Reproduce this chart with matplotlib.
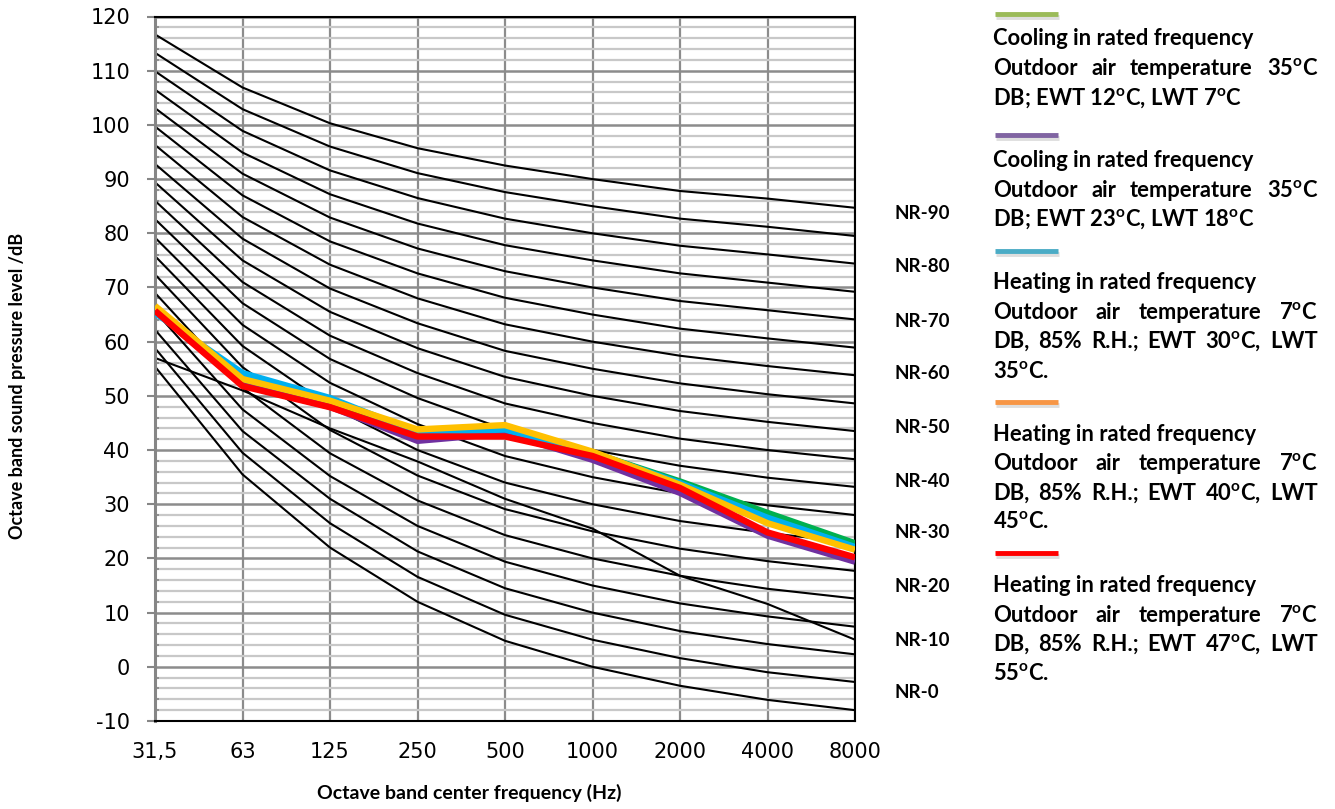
import matplotlib
matplotlib.use("Agg")
import matplotlib.pyplot as plt
from matplotlib.ticker import MultipleLocator

plt.rcParams["axes.unicode_minus"] = False

# octave band centres
freq_labels = ["31,5", "63", "125", "250", "500", "1000", "2000", "4000", "8000"]

# NR curves, NR-0 ... NR-90 in steps of 5
nr_curves = [
    [55.4, 35.5, 22.0, 12.0, 4.8, 0.0, -3.5, -6.1, -8.0],
    [58.8, 39.5, 26.5, 16.6, 9.6, 5.0, 1.6, -1.0, -2.8],
    [62.2, 43.5, 31.0, 21.3, 14.5, 10.0, 6.6, 4.2, 2.3],
    [65.6, 47.5, 35.2, 26.0, 19.4, 15.0, 11.7, 9.3, 7.4],
    [69.0, 51.5, 39.4, 30.7, 24.3, 20.0, 16.8, 14.4, 12.6],
    [72.4, 55.3, 43.7, 35.3, 29.1, 25.0, 21.8, 19.5, 17.7],
    [75.8, 59.2, 48.1, 40.0, 34.0, 30.0, 26.9, 24.7, 22.9],
    [79.2, 63.1, 52.4, 44.8, 38.9, 35.0, 32.0, 29.8, 28.0],
    [82.6, 67.1, 56.8, 49.6, 43.8, 40.0, 37.1, 34.9, 33.2],
    [86.0, 71.0, 61.1, 54.2, 48.6, 45.0, 42.1, 40.0, 38.3],
    [89.4, 75.0, 65.5, 58.8, 53.5, 50.0, 47.2, 45.2, 43.5],
    [92.8, 79.0, 69.8, 63.4, 58.3, 55.0, 52.3, 50.3, 48.6],
    [96.3, 83.0, 74.2, 68.0, 63.2, 60.0, 57.4, 55.5, 53.8],
    [99.7, 87.0, 78.5, 72.6, 68.1, 65.0, 62.4, 60.6, 58.9],
    [103.1, 91.0, 82.9, 77.2, 73.0, 70.0, 67.5, 65.8, 64.1],
    [106.5, 94.9, 87.2, 81.8, 77.8, 75.0, 72.6, 70.9, 69.2],
    [109.9, 98.9, 91.6, 86.5, 82.7, 80.0, 77.7, 76.1, 74.4],
    [113.3, 102.9, 96.0, 91.1, 87.6, 85.0, 82.7, 81.2, 79.5],
    [116.7, 106.9, 100.3, 95.7, 92.5, 90.0, 87.8, 86.4, 84.7],
]
# the stray straight-ish curve that crosses the others
odd_curve = [57.0, 51.0, 44.0, 37.9, 31.0, 25.5, 16.8, 11.6, 5.0]

nr_labels = ["NR-90", "NR-80", "NR-70", "NR-60", "NR-50",
             "NR-40", "NR-30", "NR-20", "NR-10", "NR-0"]

# measured units
cool_12_7 = [66.0, 52.5, 48.5, 43.0, 43.8, 39.5, 34.2, 28.4, 22.8]
cool_23_18 = [65.8, 52.0, 48.0, 41.7, 43.1, 38.2, 32.1, 24.2, 19.4]
heat_30_35 = [65.3, 54.2, 49.6, 43.2, 43.8, 39.5, 33.9, 27.5, 22.1]
heat_40_45 = [66.6, 53.1, 49.1, 43.8, 44.6, 39.7, 33.6, 26.5, 21.6]
heat_47_55 = [65.7, 51.8, 47.9, 42.5, 42.5, 38.9, 33.0, 24.8, 20.2]

series = [cool_12_7, cool_23_18, heat_30_35, heat_40_45, heat_47_55]
line_colors = ["#00B050", "#7030A0", "#00B0F0", "#FFC000", "#FF0000"]
legend_colors = ["#9BBB59", "#8064A2", "#4BACC6", "#F79646", "#FF0000"]

deg = r"$^{\mathregular{o}}$C"
legend_text = [
    ["Cooling in rated frequency",
     "Outdoor air temperature 35" + deg,
     "DB; EWT 12" + deg + ", LWT 7" + deg],
    ["Cooling in rated frequency",
     "Outdoor air temperature 35" + deg,
     "DB; EWT 23" + deg + ", LWT 18" + deg],
    ["Heating in rated frequency",
     "Outdoor air temperature 7" + deg,
     "DB, 85% R.H.; EWT 30" + deg + ", LWT",
     "35" + deg + "."],
    ["Heating in rated frequency",
     "Outdoor air temperature 7" + deg,
     "DB, 85% R.H.; EWT 40" + deg + ", LWT",
     "45" + deg + "."],
    ["Heating in rated frequency",
     "Outdoor air temperature 7" + deg,
     "DB, 85% R.H.; EWT 47" + deg + ", LWT",
     "55" + deg + "."],
]
# which lines get stretched to the full width
legend_justify = [
    [False, True, False],
    [False, True, False],
    [False, True, True, False],
    [False, True, True, False],
    [False, True, True, False],
]

W, H = 1335, 809
fig = plt.figure(figsize=(W / 100, H / 100), dpi=100)
fig.patch.set_facecolor("white")

left, right, top, bottom = 155, 855, 16.5, 721
ax = fig.add_axes([left / W, 1 - bottom / H, (right - left) / W, (bottom - top) / H])
x = list(range(len(freq_labels)))

ax.set_xlim(0, len(freq_labels) - 1)
ax.set_ylim(-10, 120)
ax.yaxis.set_major_locator(MultipleLocator(10))
ax.yaxis.set_minor_locator(MultipleLocator(2))
ax.set_xticks(x)
ax.set_xticklabels(freq_labels)

ax.grid(True, axis="y", which="minor", color="#c8c8c8", lw=1.6, zorder=0)
ax.grid(True, axis="y", which="major", color="#8c8c8c", lw=1.8, zorder=0)
ax.grid(True, axis="x", which="major", color="#8c8c8c", lw=1.6, zorder=0)
ax.set_axisbelow(True)

for vals in nr_curves:
    ax.plot(x, vals, color="black", lw=1.5, zorder=2)
ax.plot(x, odd_curve, color="black", lw=1.5, zorder=2)

for vals, c in zip(series, line_colors):
    ax.plot(x, vals, color=c, lw=4.6, solid_joinstyle="round",
            solid_capstyle="butt", zorder=3)

ax.spines["left"].set_color("#868686")
ax.spines["left"].set_linewidth(2.2)
for s in ["top", "right", "bottom"]:
    ax.spines[s].set_color("black")
    ax.spines[s].set_linewidth(1.5)

ax.tick_params(axis="y", which="major", direction="out", length=6, width=1.5,
               color="#868686", pad=12, labelsize=15)
ax.tick_params(axis="y", which="minor", direction="in", length=3, width=1.2,
               color="#868686")
ax.tick_params(axis="x", length=0, pad=15, labelsize=15)
for lab in ax.get_xticklabels() + ax.get_yticklabels():
    lab.set_fontfamily("DejaVu Sans")

fig.text(469 / W, 1 - 793 / H, "Octave band center frequency (Hz)",
         ha="center", va="center", fontsize=14, fontweight="bold",
         family="Lato")
fig.text(18 / W, 1 - 386 / H, "Octave band sound pressure level /dB",
         ha="center", va="center", rotation=90, fontsize=13,
         fontweight="bold", family="Lato")

# overlay in pixel coords for the labels on the right
ov = fig.add_axes([0, 0, 1, 1])
ov.set_xlim(0, W)
ov.set_ylim(H, 0)
ov.axis("off")

nr_y = [213, 267, 321, 373, 427, 481, 533, 587, 640, 693]
for lab, yy in zip(nr_labels, nr_y):
    ov.text(895, yy, lab, ha="left", va="center", fontsize=13.5,
            fontweight="bold", family="Lato")

renderer = fig.canvas.get_renderer()
tx0, tx1 = 993, 1318
txt_kw = dict(fontsize=15.8, fontweight="bold", family="Lato", va="baseline",
              ha="left", color="black")


def put_line(text, yc, justify):
    yb = yc + 8
    if not justify:
        ov.text(tx0, yb, text, **txt_kw)
        return
    words = text.split(" ")
    items = [ov.text(0, yb, w, **txt_kw) for w in words]
    widths = [t.get_window_extent(renderer).width for t in items]
    gap = (tx1 - tx0 - sum(widths)) / (len(words) - 1)
    pos = tx0
    for t, w in zip(items, widths):
        t.set_x(pos)
        pos += w + gap


marker_y = [14, 135, 251, 402, 553]
line_y = [
    [37, 67, 97],
    [159, 189, 218],
    [281, 311, 340, 370],
    [433, 462, 492, 520],
    [584, 614, 643, 672],
]
for k in range(len(series)):
    my = marker_y[k]
    ov.plot([996, 1059], [my + 2.5, my + 2.5], color="#d0d0d0", lw=3.5,
            solid_capstyle="butt", alpha=0.7)
    ov.plot([995, 1058], [my, my], color=legend_colors[k], lw=3.5,
            solid_capstyle="butt")
    for text, yc, j in zip(legend_text[k], line_y[k], legend_justify[k]):
        put_line(text, yc, j)

fig.savefig("out.png", dpi=100)
